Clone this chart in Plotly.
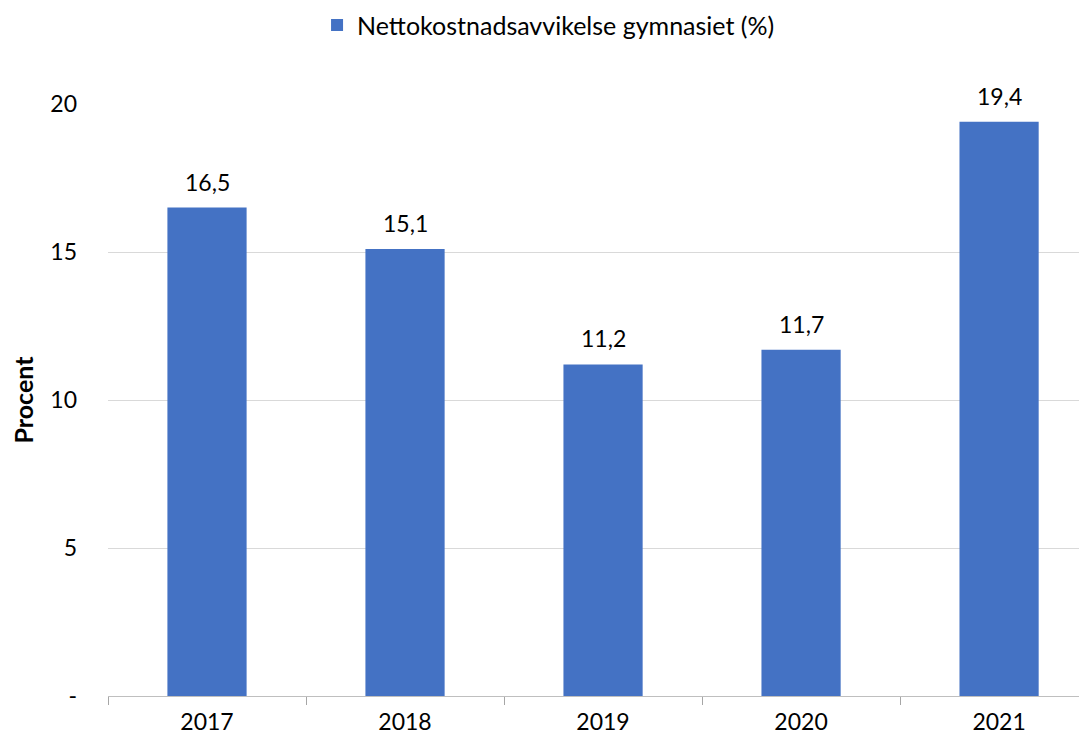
import plotly.graph_objects as go

years = ["2017", "2018", "2019", "2020", "2021"]
values = [16.5, 15.1, 11.2, 11.7, 19.4]
labels = ["16,5", "15,1", "11,2", "11,7", "19,4"]
series_name = "Nettokostnadsavvikelse gymnasiet (%)"
y_tickvals = [0, 5, 10, 15, 20]
y_ticktext = ["-", "5", "10", "15", "20"]

FONT = "Lato, 'Noto Sans', sans-serif"

fig = go.Figure()
fig.add_trace(go.Bar(
    x=years, y=values, name=series_name,
    marker=dict(color="#4472C4", line=dict(width=0)),
    width=0.4,
    showlegend=True,
))

for i, (v, lab) in enumerate(zip(values, labels)):
    fig.add_annotation(
        x=i, y=v, xref="x", yref="y", text=lab, showarrow=False,
        xanchor="center", yanchor="middle", yshift=26,
        font=dict(size=23, family=FONT, color="#000000"),
    )

# body has an 8px default margin in the page; compensate
fig.update_layout(
    width=1079, height=732,
    margin=dict(l=100, r=0, t=96, b=44, autoexpand=False),
    paper_bgcolor="white", plot_bgcolor="white",
    font=dict(family=FONT, size=23, color="#000000"),
    showlegend=True,
    legend=dict(orientation="h", x=0.45, xanchor="center", y=1.133, yanchor="middle",
                font=dict(size=25, family=FONT), itemwidth=30),
)
fig.update_xaxes(
    type="category", range=[-0.5, 4.444],
    showline=True, linecolor="#BFBFBF", linewidth=1,
    ticks="outside", tickson="boundaries", ticklen=8, tickcolor="#A6A6A6",
    showgrid=False, tickfont=dict(size=23, family=FONT),
    ticklabelstandoff=5,
)
fig.update_yaxes(
    range=[0, 20], tickvals=y_tickvals, ticktext=y_ticktext,
    showgrid=True, gridcolor="#D9D9D9", gridwidth=1,
    zeroline=False, showline=False,
    tickfont=dict(size=23, family=FONT),
    ticklabelstandoff=30,
    title=dict(text="<b>Procent</b>", font=dict(size=25, family=FONT), standoff=23),
)

fig.write_html("out.html")
